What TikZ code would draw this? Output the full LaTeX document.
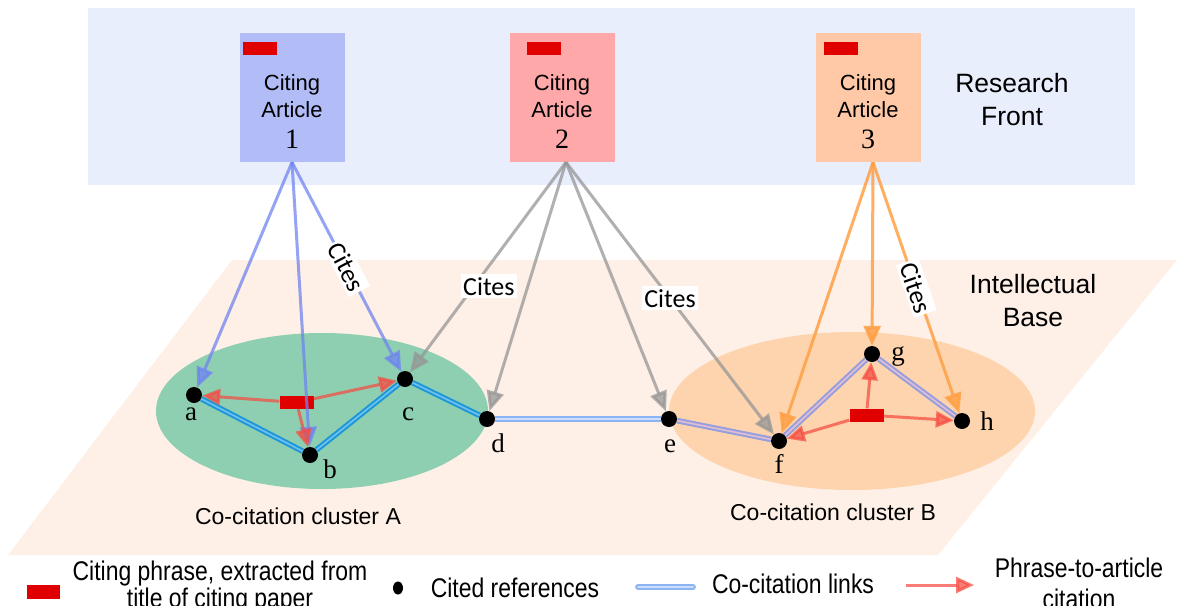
\documentclass[tikz,border=0pt]{standalone}
\usepackage{fontspec}
\usepackage{tikz}
\usetikzlibrary{arrows.meta, shapes.geometric}
\setmainfont{Liberation Sans}
\newfontfamily\legfont[FakeStretch=0.85]{Liberation Sans}
\newfontfamily\citefont{Carlito}
\newfontfamily\letfont{Liberation Serif}
\definecolor{bandblue}{RGB}{233,238,253}
\definecolor{box1}{RGB}{178,188,246}
\definecolor{box2}{RGB}{255,168,170}
\definecolor{box3}{RGB}{255,201,168}
\definecolor{phrasered}{RGB}{225,0,0}
\definecolor{plane}{RGB}{254,240,230}
\definecolor{clusterA}{RGB}{142,207,178}
\definecolor{clusterB}{RGB}{253,212,174}
\definecolor{citeblue}{RGB}{112,132,240}
\definecolor{citegray}{RGB}{150,150,150}
\definecolor{citeorange}{RGB}{255,160,70}
\definecolor{phrasearrow}{RGB}{245,75,65}
\definecolor{linkA}{RGB}{30,150,215}
\definecolor{linkAin}{RGB}{110,195,240}
\definecolor{linkD}{RGB}{140,180,245}
\definecolor{linkDin}{RGB}{205,222,250}
\definecolor{linkB}{RGB}{150,158,222}
\definecolor{linkBin}{RGB}{225,190,210}
\tikzstyle{artbox}=[rectangle,minimum width=105pt,minimum height=129pt,inner sep=0pt]
\tikzstyle{arttxt}=[align=center,inner sep=0pt,font=\fontsize{22}{27}\selectfont]
\tikzstyle{bigtxt}=[align=center,inner sep=0pt,font=\fontsize{26.5}{33}\selectfont]
\tikzstyle{clustxt}=[inner sep=0pt,font=\fontsize{23}{23}\selectfont]
\tikzstyle{legtxt}=[align=center,inner sep=0pt,font=\legfont\fontsize{27}{27}\selectfont]
\tikzstyle{phrase}=[rectangle,fill=phrasered,minimum width=34pt,minimum height=13pt,inner sep=0pt]
\tikzstyle{refdot}=[circle,fill=black,minimum size=16pt,inner sep=0pt]
\tikzstyle{lbl}=[anchor=base,inner sep=0pt,font=\letfont\fontsize{27}{27}\selectfont]
\tikzstyle{cites}=[line width=3pt,opacity=.75,-{Triangle[length=20pt,width=17pt]}]
\tikzstyle{citelbl}=[fill=white,opacity=1,text opacity=1,inner xsep=2pt,inner ysep=3pt,font=\citefont\fontsize{26}{26}\selectfont]
\tikzstyle{cocite}=[line width=2pt,double distance=1.6pt]
\tikzstyle{toart}=[line width=3pt,draw=phrasearrow,opacity=.72,-{Triangle[length=18pt,width=16pt]}]
\tikzstyle{legline}=[line width=2pt,draw=linkD,double=linkDin,double distance=1.8pt,line cap=round]

\begin{document}
\begin{tikzpicture}[x=1pt,y=-1pt]
\useasboundingbox (0,0) rectangle (1177,605);
% research front and intellectual base
\fill[bandblue] (88,8) rectangle (1135,185);
\fill[plane] (232,260) -- (1177,260) -- (938,555) -- (8,555) -- cycle;
\fill[clusterA] (322,411) ellipse [x radius=166pt, y radius=78pt];
\fill[clusterB] (852,411) ellipse [x radius=183pt, y radius=79pt];
% citing articles
\foreach \i/\x/\c in {1/292/box1, 2/562/box2, 3/868/box3} {
  \node[artbox,fill=\c] (art\i) at (\x,97.5) {};
  \node[arttxt] (txt\i) at (\x,112) {Citing\\Article\\[4pt]{\letfont\fontsize{28}{28}\selectfont\i}};
}
\foreach \n/\x in {p1/260, p2/544, p3/841} \node[phrase] (\n) at (\x,48.5) {};
\node[bigtxt] (front) at (1012,100) {Research\\Front};
\node[bigtxt] (base) at (1033,301) {Intellectual\\Base};
\node[clustxt] (clA) at (298,516) {Co-citation cluster A};
\node[clustxt] (clB) at (833,512) {Co-citation cluster B};
% cited references
\foreach \n/\x/\y in {a/194/395, b/310/455, c/405/379, d/487/419, e/669/419, f/779/441, g/872/354, h/962/421}
  \node[refdot] (\n) at (\x,\y) {};
\foreach \n/\x/\y in {a/191/420, b/330/478, c/408/420, d/498/452, e/670/452, f/779/473, g/898/360, h/987/430}
  \node[lbl] (l\n) at (\x,\y) {\n};
\node[phrase] (phA) at (296.5,402.5) {};
\node[phrase] (phB) at (866.5,415) {};
% cites
\foreach \t in {a,b} \draw[cites,draw=citeblue] (art1.south) -- (\t);
\draw[cites,draw=citeblue] (art1.south) -- node[citelbl,sloped] (cit1) {Cites} (c);
\draw[cites,draw=citegray] ([xshift=4pt]art2.south) -- node[citelbl,pos=.59,xshift=15pt] (cit2) {Cites} (c);
\foreach \t in {d,e} \draw[cites,draw=citegray] ([xshift=4pt]art2.south) -- (\t);
\draw[cites,draw=citegray] ([xshift=4pt]art2.south) -- node[citelbl] (cit3) {Cites} (f);
\foreach \t in {f,g} \draw[cites,draw=citeorange,opacity=.85] ([xshift=5pt]art3.south) -- (\t);
\draw[cites,draw=citeorange,opacity=.85] ([xshift=5pt]art3.south) -- node[citelbl,sloped] (cit4) {Cites} (h);
% co-citation links
\foreach \s/\t in {a/b, b/c, c/d} \draw[cocite,draw=linkA,double=linkAin] (\s) -- (\t);
\draw[cocite,draw=linkD,double=linkDin] (d) -- (e);
\foreach \s/\t in {e/f, f/g, g/h} \draw[cocite,draw=linkB,double=linkBin] (\s) -- (\t);
% phrase-to-article
\foreach \t in {a,b,c} \draw[toart] (phA) -- (\t);
\foreach \t in {f,g,h} \draw[toart] (phB) -- (\t);
% legend
\node[phrase,minimum width=33pt,minimum height=14pt] (legP) at (43.5,591.5) {};
\node[legtxt] (legPt) at (220,587.5) {Citing phrase, extracted from\\title of citing paper};
\node[ellipse,fill=black,minimum width=10pt,minimum height=13pt,inner sep=0pt] (legD) at (398,588) {};
\node[legtxt] (legDt) at (515,588) {Cited references};
\coordinate (legL1) at (638,587);
\coordinate (legL2) at (693,587);
\draw[legline] (legL1) -- (legL2);
\node[legtxt] (legLt) at (793,584) {Co-citation links};
\coordinate (legA1) at (906,585);
\coordinate (legA2) at (974,585);
\draw[toart] (legA1) -- (legA2);
\node[legtxt] (legAt) at (1079,583.5) {Phrase-to-article\\[4pt]citation};
\end{tikzpicture}
\end{document}
